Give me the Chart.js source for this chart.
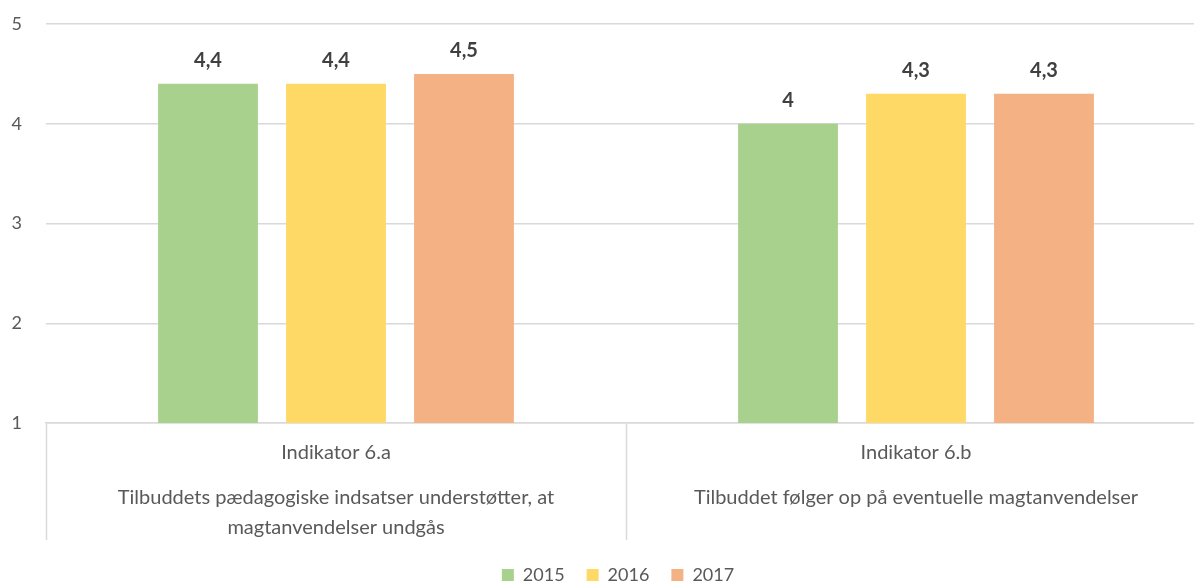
<!DOCTYPE html>
<html>
<head>
<meta charset="utf-8">
<script src="https://cdn.jsdelivr.net/npm/chart.js@4"></script>
<style>
    html, body { margin: 0; padding: 0; background: #fff; overflow: hidden; }
    #wrap { width: 1210px; height: 584px; }
</style>
</head>
<body>
<div id="wrap"><canvas id="barchart"></canvas></div>
<script>
const categoryTitles = ['Indikator 6.a', 'Indikator 6.b'];
const categoryTexts = [
    ['Tilbuddets pædagogiske indsatser understøtter, at', 'magtanvendelser undgås'],
    ['Tilbuddet følger op på eventuelle magtanvendelser']
];
const years = ['2015', '2016', '2017'];
const values2015 = [4.4, 4.0];
const values2016 = [4.4, 4.3];
const values2017 = [4.5, 4.3];
const yTicks = [1, 2, 3, 4, 5];

const colors = ['#A9D18E', '#FFD966', '#F4B183'];
const textGrey = '#595959';
const gridGrey = '#d9d9d9';
const font = 'Lato';

// title, blank lines, then the description lines
const labels = categoryTitles.map((t, i) => {
    const txt = categoryTexts[i];
    return [t, '', '', txt[0] || '', '', txt[1] || ''];
});

const valueLabels = {
    id: 'valueLabels',
    afterDatasetsDraw(chart) {
        const c = chart.ctx;
        c.save();
        c.font = 'bold 20px ' + font;
        c.fillStyle = '#404040';
        c.textAlign = 'center';
        c.textBaseline = 'middle';
        chart.data.datasets.forEach((ds, di) => {
            chart.getDatasetMeta(di).data.forEach((bar, i) => {
                const txt = String(ds.data[i]).replace('.', ',');
                c.fillText(txt, bar.x, bar.y - 23);
            });
        });
        c.restore();
    }
};

// legend sits centred under the plot area, not the whole canvas
const legendNudge = {
    id: 'legendNudge',
    afterLayout(chart) {
        if (chart.legend) {
            chart.legend.left += 15;
            chart.legend.right += 15;
        }
    }
};

const ctx = document.getElementById('barchart');
new Chart(ctx, {
    type: 'bar',
    data: {
        labels: labels,
        datasets: [
            {label: years[0], data: values2015, backgroundColor: colors[0]},
            {label: years[1], data: values2016, backgroundColor: colors[1]},
            {label: years[2], data: values2017, backgroundColor: colors[2]}
        ]
    },
    options: {
        responsive: true,
        maintainAspectRatio: false,
        animation: false,
        categoryPercentage: 0.662,
        barPercentage: 0.78,
        layout: {padding: {top: 24, left: 0, right: 4, bottom: -10}},
        plugins: {
            tooltip: {enabled: false},
            legend: {
                position: 'bottom',
                labels: {
                    boxWidth: 12,
                    boxHeight: 12,
                    padding: 22,
                    color: textGrey,
                    font: {family: font, size: 18}
                }
            }
        },
        scales: {
            x: {
                afterFit: (scale) => { scale.height = 121 },
                border: {display: true, color: gridGrey, width: 1.5},
                grid: {
                    offset: true,
                    drawOnChartArea: false,
                    drawTicks: true,
                    tickLength: 117,
                    tickColor: gridGrey,
                    tickWidth: 1.5
                },
                ticks: {
                    maxRotation: 0,
                    autoSkip: false,
                    padding: -94.5,
                    color: textGrey,
                    font: {family: font, size: 20, lineHeight: '15px'}
                }
            },
            y: {
                min: yTicks[0],
                max: yTicks[yTicks.length - 1],
                afterFit: (scale) => {
                    scale.width = 46;
                    scale.paddingTop = 0;
                    scale.paddingBottom = 0;
                },
                afterBuildTicks: (scale) => { scale.ticks = yTicks.map((v) => ({value: v})) },
                border: {display: false},
                grid: {color: gridGrey, lineWidth: 1.5, drawTicks: false},
                ticks: {
                    padding: 24,
                    color: textGrey,
                    font: {family: font, size: 18}
                }
            }
        }
    },
    plugins: [valueLabels, legendNudge]
});
</script>
</body>
</html>
